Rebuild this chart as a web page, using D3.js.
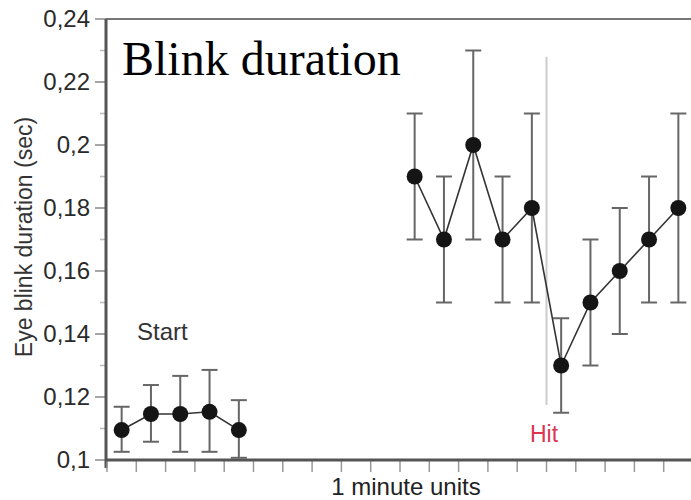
<!DOCTYPE html>
<html>
<head>
<meta charset="utf-8">
<script src="https://cdn.jsdelivr.net/npm/d3@7"></script>
<style>
  body { margin: 0; background: #fff; }
  svg { display: block; }
</style>
</head>
<body>
<svg id="chart" width="691" height="500"></svg>
<script>
// --------------------------
// DATA
// --------------------------
// minute index, mean, low, high
const startMinutes = [0, 1, 2, 3, 4];
const startMeans = [0.1095, 0.1146, 0.1146, 0.1153, 0.1095];
const startLow = [0.1026, 0.1058, 0.1026, 0.1026, 0.1007];
const startHigh = [0.1169, 0.1238, 0.1267, 0.1286, 0.119];

const laterMinutes = [10, 11, 12, 13, 14, 15, 16, 17, 18, 19];
const laterMeans = [0.19, 0.17, 0.2, 0.17, 0.18, 0.13, 0.15, 0.16, 0.17, 0.18];
const laterLow = [0.17, 0.15, 0.17, 0.15, 0.15, 0.115, 0.13, 0.14, 0.15, 0.15];
const laterHigh = [0.21, 0.19, 0.23, 0.19, 0.21, 0.145, 0.17, 0.18, 0.19, 0.21];

const yTicks = [0.1, 0.12, 0.14, 0.16, 0.18, 0.2, 0.22, 0.24];
const yTickLabels = ["0,1", "0,12", "0,14", "0,16", "0,18", "0,2", "0,22", "0,24"];
const yMinorTicks = [0.11, 0.13, 0.15, 0.17, 0.19, 0.21, 0.23];
const xTicks = d3.range(0, 21);

const hitMinute = 15;
const hitRange = [0.1175, 0.228];

// --------------------------
// CHART
// --------------------------
const svg = d3.select("#chart");
const margin = { top: 19, left: 106, bottom: 40 };
const height = +svg.attr("height");

const x = d3.scaleLinear()
    .domain([0, 20])
    .range([107, 693]);

const y = d3.scaleLinear()
    .domain([0.1, 0.24])
    .range([height - margin.bottom, margin.top]);

const font = "'Liberation Sans', Arial, sans-serif";

// top frame line
svg.append("line")
    .attr("x1", margin.left).attr("x2", 691)
    .attr("y1", y(0.24)).attr("y2", y(0.24))
    .attr("stroke", "#777").attr("stroke-width", 2);

// y axis
const yAxis = svg.append("g")
    .attr("transform", `translate(${margin.left},0)`);

yAxis.selectAll(".minor")
    .data(yMinorTicks)
    .enter().append("line")
    .attr("x1", -6).attr("x2", 0)
    .attr("y1", d => y(d)).attr("y2", d => y(d))
    .attr("stroke", "#bbb").attr("stroke-width", 1.5);

yAxis.selectAll(".major")
    .data(yTicks)
    .enter().append("line")
    .attr("x1", -11).attr("x2", 0)
    .attr("y1", d => y(d)).attr("y2", d => y(d))
    .attr("stroke", "#888").attr("stroke-width", 1.5);

yAxis.selectAll("text")
    .data(yTicks)
    .enter().append("text")
    .attr("x", -16)
    .attr("y", d => y(d))
    .attr("dy", "0.33em")
    .attr("text-anchor", "end")
    .attr("font-family", font)
    .attr("font-size", 24)
    .attr("fill", "#2a2a2a")
    .text((d, i) => yTickLabels[i]);

yAxis.append("line")
    .attr("x1", 0).attr("x2", 0)
    .attr("y1", y(0.24)).attr("y2", y(0.1) + 8)
    .attr("stroke", "#555").attr("stroke-width", 3);

// x axis
const xAxis = svg.append("g");

xAxis.selectAll("line.tick")
    .data(xTicks)
    .enter().append("line")
    .attr("class", "tick")
    .attr("x1", d => x(d)).attr("x2", d => x(d))
    .attr("y1", y(0.1)).attr("y2", y(0.1) + 12)
    .attr("stroke", "#999").attr("stroke-width", 1.5);

xAxis.append("line")
    .attr("x1", margin.left).attr("x2", 691)
    .attr("y1", y(0.1)).attr("y2", y(0.1))
    .attr("stroke", "#555").attr("stroke-width", 3);

xAxis.append("text")
    .attr("x", 406)
    .attr("y", 495)
    .attr("text-anchor", "middle")
    .attr("font-family", font)
    .attr("font-size", 24)
    .attr("fill", "#222")
    .text("1 minute units");

// axis title
svg.append("text")
    .attr("transform", `translate(32,237) rotate(-90)`)
    .attr("text-anchor", "middle")
    .attr("font-family", font)
    .attr("font-size", 23)
    .attr("fill", "#333")
    .text("Eye blink duration (sec)");

// hit marker
svg.append("line")
    .attr("x1", x(hitMinute)).attr("x2", x(hitMinute))
    .attr("y1", y(hitRange[1])).attr("y2", y(hitRange[0]))
    .attr("stroke", "#ccc").attr("stroke-width", 2);

svg.append("text")
    .attr("x", 530)
    .attr("y", 442)
    .attr("font-family", font)
    .attr("font-size", 23)
    .attr("fill", "#dc3550")
    .text("Hit");

svg.append("text")
    .attr("x", 137)
    .attr("y", 340)
    .attr("font-family", font)
    .attr("font-size", 24)
    .attr("fill", "#333")
    .text("Start");

// title
svg.append("text")
    .attr("x", 122)
    .attr("y", 75)
    .attr("font-family", "'Liberation Serif', 'Times New Roman', serif")
    .attr("font-size", 48)
    .attr("fill", "#000")
    .text("Blink duration");

// --------------------------
// SERIES
// --------------------------
function drawSeries(minutes, means, low, high) {
    const pts = minutes.map((m, i) => ({ x: m + 0.5, mean: means[i], low: low[i], high: high[i] }));
    const g = svg.append("g");

    const bars = g.selectAll("g.err")
        .data(pts)
        .enter().append("g")
        .attr("class", "err")
        .attr("stroke", "#666")
        .attr("stroke-width", 2);

    bars.append("line")
        .attr("x1", d => x(d.x)).attr("x2", d => x(d.x))
        .attr("y1", d => y(d.low)).attr("y2", d => y(d.high));
    bars.append("line")
        .attr("x1", d => x(d.x) - 8).attr("x2", d => x(d.x) + 8)
        .attr("y1", d => y(d.high)).attr("y2", d => y(d.high));
    bars.append("line")
        .attr("x1", d => x(d.x) - 8).attr("x2", d => x(d.x) + 8)
        .attr("y1", d => y(d.low)).attr("y2", d => y(d.low));

    g.append("path")
        .datum(pts)
        .attr("fill", "none")
        .attr("stroke", "#333")
        .attr("stroke-width", 1.6)
        .attr("d", d3.line().x(d => x(d.x)).y(d => y(d.mean)));

    g.selectAll("circle")
        .data(pts)
        .enter().append("circle")
        .attr("cx", d => x(d.x))
        .attr("cy", d => y(d.mean))
        .attr("r", 8)
        .attr("fill", "#151515");
}

drawSeries(startMinutes, startMeans, startLow, startHigh);
drawSeries(laterMinutes, laterMeans, laterLow, laterHigh);
</script>
</body>
</html>
